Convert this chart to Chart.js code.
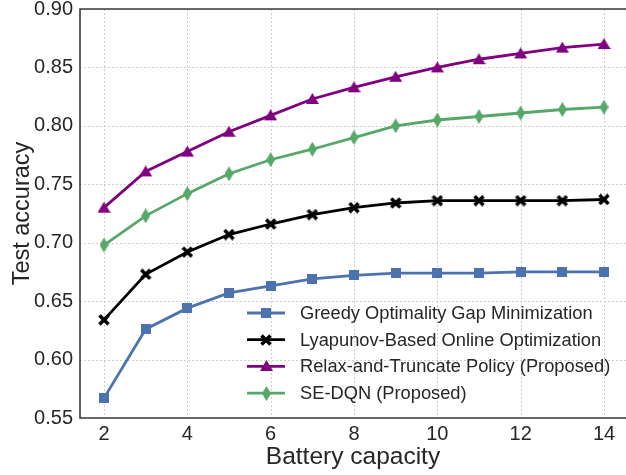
<!DOCTYPE html>
<html>
<head>
<meta charset="utf-8">
<script src="https://cdn.jsdelivr.net/npm/chart.js@4"></script>
<style>
html,body{margin:0;padding:0;background:#fff;overflow:hidden;}
canvas{display:block;}
</style>
</head>
<body>
<canvas id="c" width="626" height="475"></canvas>
<script>
const capacities = [2,3,4,5,6,7,8,9,10,11,12,13,14];
const greedy   = [0.567,0.626,0.644,0.657,0.663,0.669,0.672,0.674,0.674,0.674,0.675,0.675,0.675];
const lyapunov = [0.634,0.673,0.692,0.707,0.716,0.724,0.730,0.734,0.736,0.736,0.736,0.736,0.737];
const relax    = [0.730,0.761,0.778,0.795,0.809,0.823,0.833,0.842,0.850,0.857,0.862,0.867,0.870];
const sedqn    = [0.698,0.723,0.742,0.759,0.771,0.780,0.790,0.800,0.805,0.808,0.811,0.814,0.816];
const seriesLabels = ["Greedy Optimality Gap Minimization","Lyapunov-Based Online Optimization","Relax-and-Truncate Policy (Proposed)","SE-DQN (Proposed)"];
const xTicks = [2,4,6,8,10,12,14];
const yTicks = [0.55,0.60,0.65,0.70,0.75,0.80,0.85,0.90];
const xTitle = "Battery capacity";
const yTitle = "Test accuracy";

const FONT = "'Liberation Sans', Arial, Helvetica, sans-serif";
const TEXT = "#262626";

function marker(kind, color){
  const c = document.createElement('canvas');
  if (kind === 'square'){ c.width = 10; c.height = 10; }
  else if (kind === 'x'){ c.width = 12; c.height = 12; }
  else if (kind === 'tri'){ c.width = 13; c.height = 12; }
  else { c.width = 9; c.height = 15; }
  const ctx = c.getContext('2d');
  ctx.fillStyle = color; ctx.strokeStyle = color;
  if (kind === 'square'){ ctx.fillRect(0,0,10,10); }
  else if (kind === 'x'){
    ctx.lineWidth = 3.6; ctx.lineCap = 'butt';
    ctx.beginPath(); ctx.moveTo(1.5,1.5); ctx.lineTo(10.5,10.5); ctx.moveTo(10.5,1.5); ctx.lineTo(1.5,10.5); ctx.stroke();
  } else if (kind === 'tri'){
    ctx.beginPath(); ctx.moveTo(6.5,0); ctx.lineTo(13,11); ctx.lineTo(0,11); ctx.closePath(); ctx.fill();
  } else {
    ctx.beginPath(); ctx.moveTo(4.5,0); ctx.lineTo(9,7.5); ctx.lineTo(4.5,15); ctx.lineTo(0,7.5); ctx.closePath(); ctx.fill();
  }
  return c;
}

const colors = ['#4C72B0','#000000','#800080','#55A868'];
const kinds = ['square','x','tri','dia'];
const values = [greedy, lyapunov, relax, sedqn];
const markers = kinds.map((k,i)=>marker(k, colors[i]));

const datasets = values.map((vals,i)=>({
  label: seriesLabels[i],
  data: capacities.map((x,j)=>({x:x, y:vals[j]})),
  borderColor: colors[i],
  backgroundColor: colors[i],
  borderWidth: 2.8,
  pointStyle: markers[i],
  pointRadius: 6,
  pointHoverRadius: 6,
  tension: 0,
  fill: false
}));

const decor = {
  id: 'decor',
  beforeDatasetsDraw(chart){
    const {ctx, chartArea:a, scales:{x,y}} = chart;
    ctx.save();
    ctx.strokeStyle = '#cfcfcf'; ctx.lineWidth = 1; ctx.setLineDash([2,2]);
    xTicks.forEach(v=>{ const px = Math.round(x.getPixelForValue(v))+0.5; ctx.beginPath(); ctx.moveTo(px,a.top); ctx.lineTo(px,a.bottom); ctx.stroke(); });
    yTicks.forEach(v=>{ const py = Math.round(y.getPixelForValue(v))+0.5; ctx.beginPath(); ctx.moveTo(a.left,py); ctx.lineTo(a.right,py); ctx.stroke(); });
    ctx.restore();
  },
  afterDraw(chart){
    const {ctx, chartArea:a} = chart;
    ctx.save();
    ctx.strokeStyle = '#3a3a3a'; ctx.lineWidth = 1.6; ctx.setLineDash([]);
    ctx.beginPath();
    ctx.moveTo(a.right + 2, a.top); ctx.lineTo(a.left, a.top); ctx.lineTo(a.left, a.bottom); ctx.lineTo(a.right + 2, a.bottom);
    ctx.stroke();
    // legend
    ctx.font = "18.3px " + FONT;
    ctx.textBaseline = 'middle'; ctx.textAlign = 'left';
    const lx0 = a.left + 167, lx1 = a.left + 205, tx = a.left + 220;
    const y0 = a.top + 304, dy = 26.7;
    datasets.forEach((d,i)=>{
      const yy = y0 + i*dy;
      ctx.strokeStyle = d.borderColor; ctx.lineWidth = 2.8;
      ctx.beginPath(); ctx.moveTo(lx0,yy); ctx.lineTo(lx1,yy); ctx.stroke();
      const m = markers[i];
      ctx.drawImage(m, Math.round((lx0+lx1)/2 - m.width/2), Math.round(yy - m.height/2));
      ctx.fillStyle = TEXT;
      ctx.fillText(d.label, tx, yy+1);
    });
    ctx.restore();
  }
};

new Chart(document.getElementById('c'), {
  type: 'line',
  data: { datasets },
  options: {
    responsive: false,
    animation: false,
    events: [],
    layout: { autoPadding: false, padding: { left: 0, right: 0, top: 9, bottom: 0 } },
    plugins: { legend: { display: false }, tooltip: { enabled: false } },
    scales: {
      x: {
        type: 'linear', min: 1.424, max: 14.528,
        afterBuildTicks(s){ s.ticks = xTicks.map(v=>({value:v})); },
        afterFit(s){ s.height = 57; s.paddingLeft = 0; s.paddingRight = 0; },
        grid: { display: false, drawTicks: false },
        border: { display: false },
        ticks: { color: TEXT, font: { family: FONT, size: 20 }, padding: 4, maxRotation: 0, autoSkip: false },
        title: { display: true, text: xTitle, color: TEXT, font: { family: FONT, size: 24.5 }, padding: { top: 0, bottom: 3 } }
      },
      y: {
        type: 'linear', min: 0.55, max: 0.90,
        afterBuildTicks(s){ s.ticks = yTicks.map(v=>({value:v})); },
        afterFit(s){ s.width = 80; s.paddingTop = 0; s.paddingBottom = 0; },
        grid: { display: false, drawTicks: false },
        border: { display: false },
        ticks: { color: TEXT, font: { family: FONT, size: 20 }, padding: 7, autoSkip: false, callback: v => v.toFixed(2) },
        title: { display: true, text: yTitle, color: TEXT, font: { family: FONT, size: 23.5 }, padding: { top: 8, bottom: 0 } }
      }
    }
  },
  plugins: [decor]
});
</script>
</body>
</html>
